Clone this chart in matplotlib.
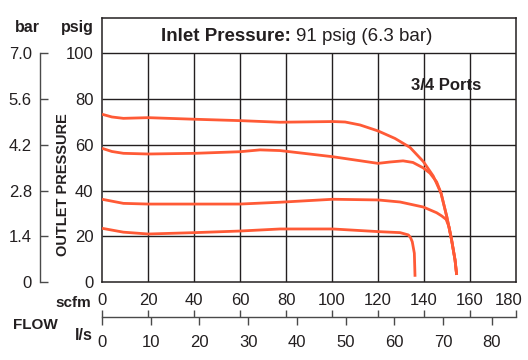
import numpy as np
import matplotlib
matplotlib.use("Agg")
import matplotlib.pyplot as plt
from matplotlib.ticker import FixedLocator
from matplotlib.transforms import ScaledTranslation

plt.rcParams["font.family"] = ["Liberation Sans", "DejaVu Sans"]

C_LINE = "#FF5A36"
C_INK = "#231F20"
C_AX = "#4A4A4A"

# ── Data (scfm, psig) ──────────────────────────────────────────────
scfm_73 = [0, 4.3, 9.3, 20.1, 40.4, 60.0, 77.4, 100.4, 105.7, 112.2, 120.0, 127.4, 133.9,
           139.7, 144.0, 147.4, 149.9, 152.0, 153.5, 154.2]
psig_73 = [73.4, 72.2, 71.6, 71.9, 71.2, 70.6, 69.9, 70.2, 70.0, 68.7, 66.1, 62.8, 58.9,
           52.7, 46.4, 38.9, 28.6, 18.4, 9.6, 3.1]

scfm_58 = [0, 4.3, 9.3, 20.1, 40.4, 60.0, 68.7, 77.4, 100.4, 120.0, 125.2, 130.9, 135.2,
           139.7, 142.6, 145.5, 147.4, 149.9, 152.0, 153.5, 154.2]
psig_58 = [58.5, 57.1, 56.3, 56.0, 56.3, 57.0, 57.8, 57.5, 54.8, 51.9, 52.5, 53.0, 52.3,
           49.9, 47.6, 43.8, 38.9, 28.6, 18.4, 9.6, 3.1]

scfm_36 = [0, 9.3, 20.1, 40.4, 60.0, 77.4, 100.4, 120.0, 129.6, 139.7, 145.5, 147.7,
           149.6, 150.9, 152.0, 153.5, 154.2]
psig_36 = [36.2, 34.4, 34.1, 34.1, 34.1, 34.9, 36.2, 35.9, 35.0, 32.8, 30.3, 28.9,
           27.4, 24.1, 18.4, 9.6, 3.1]

scfm_23 = [0, 9.3, 20.1, 40.4, 60.0, 77.4, 100.4, 120.9, 129.6, 133.2, 134.1, 134.9, 135.8, 136.1]
psig_23 = [23.5, 21.8, 21.0, 21.6, 22.3, 23.2, 23.2, 22.0, 21.6, 20.6, 19.5, 17.6, 12.6, 2.3]

psig_ticks = [0, 20, 40, 60, 80, 100]
bar_labels = ["0", "1.4", "2.8", "4.2", "5.6", "7.0"]
scfm_ticks = [0, 20, 40, 60, 80, 100, 120, 140, 160, 180]
ls_ticks = [0, 10, 20, 30, 40, 50, 60, 70, 80]
SCFM_PER_LS = 2.119

W, H = 528, 360
fig = plt.figure(figsize=(W / 100, H / 100), dpi=100, facecolor="white")
ax = fig.add_axes([102 / W, 78 / H, 414 / W, 264 / H])
ax.set_xlim(0, 180)
ax.set_ylim(0, 115.5)

for s in ax.spines.values():
    s.set_color(C_INK)
    s.set_linewidth(1.1)

# grid (verticals stop at 100 psig, title strip above)
ax.vlines(scfm_ticks[1:-1], 0, 100, color=C_INK, lw=1.0, zorder=1)
ax.hlines(psig_ticks[1:], 0, 180, color=C_INK, lw=1.0, zorder=1)

for xs, ys in [(scfm_73, psig_73), (scfm_58, psig_58), (scfm_36, psig_36), (scfm_23, psig_23)]:
    ax.plot(xs, ys, color=C_LINE, lw=2.0, solid_joinstyle="round", solid_capstyle="butt", zorder=3)

# psig ticks / scfm ticks on main axes
ax.set_yticks(psig_ticks)
ax.set_xticks(scfm_ticks)
ax.tick_params(axis="y", length=0, pad=6.3, labelsize=12, labelcolor=C_INK)
ax.tick_params(axis="x", length=0, pad=8, labelsize=12, labelcolor=C_INK)
last = ax.get_xticklabels()[-1]
last.set_transform(last.get_transform() + ScaledTranslation(-7 / 100, 0, fig.dpi_scale_trans))

# bar axis
bax = ax.secondary_yaxis(-62.5 / 414)
bax.set_yticks(psig_ticks, labels=bar_labels)
bax.spines["left"].set_bounds(0, 100)
bax.spines["left"].set_color(C_AX)
bax.spines["left"].set_linewidth(1.0)
bax.tick_params(direction="in", length=6, width=1.0, color=C_AX, pad=5.5, labelsize=12, labelcolor=C_INK)

# l/s axis
lax = ax.secondary_xaxis(-35 / 264, functions=(lambda s: s / SCFM_PER_LS, lambda l: l * SCFM_PER_LS))
lax.set_xticks(ls_ticks)
lax.xaxis.set_minor_locator(FixedLocator(np.array(scfm_ticks) / SCFM_PER_LS))
lax.xaxis.remove_overlapping_locs = False
lax.spines["bottom"].set_color(C_AX)
lax.spines["bottom"].set_linewidth(1.0)
lax.tick_params(which="major", direction="out", length=6, width=1.0, color=C_AX, pad=7, labelsize=12, labelcolor=C_INK)
lax.tick_params(which="minor", direction="in", length=5, width=1.0, color=C_AX)


def ftext(x, y, t, **kw):
    return fig.text(x / W, 1 - y / H, t, color=C_INK, **kw)


ftext(27, 32, "bar", fontsize=11.5, fontweight="bold", ha="center", va="baseline")
ftext(94, 32, "psig", fontsize=11.5, fontweight="bold", ha="right", va="baseline")
ftext(63, 185, "OUTLET PRESSURE", fontsize=10.5, fontweight="bold", rotation=90, ha="center", va="center")
ftext(91, 303, "scfm", fontsize=11, fontweight="bold", ha="right", va="center")
ftext(93, 336, "l/s", fontsize=11.5, fontweight="bold", ha="right", va="center")
ftext(35, 325, "FLOW", fontsize=11, fontweight="bold", ha="center", va="center")

t1 = ftext(161, 40.7, "Inlet Pressure:", fontsize=13.5, fontweight="bold", ha="left", va="baseline")
fig.canvas.draw()
x_end = t1.get_window_extent().x1
ftext(x_end + 5, 40.7, "91 psig (6.3 bar)", fontsize=13.5, ha="left", va="baseline")
ftext(481, 90, "3/4 Ports", fontsize=12, fontweight="bold", ha="right", va="baseline")

fig.savefig("out.png", dpi=100, facecolor="white")
